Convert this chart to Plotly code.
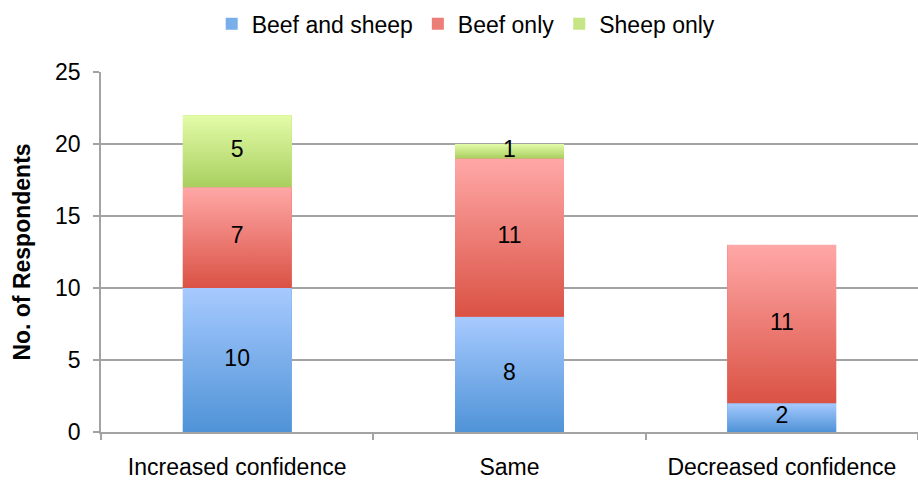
import plotly.graph_objects as go

# Survey responses: change in confidence, split by enterprise type
categories = ["Increased confidence", "Same", "Decreased confidence"]
beef_and_sheep = [10, 8, 2]
beef_only = [7, 11, 11]
sheep_only = [5, 1, 0]

series = [
    ("Beef and sheep", beef_and_sheep, "#4f93d7", "#a7caff", "#78aeea"),
    ("Beef only", beef_only, "#da5244", "#ffa8a7", "#ec7d77"),
    ("Sheep only", sheep_only, "#a9cf5f", "#e3fca9", "#c6e585"),
]

FONT = "Liberation Sans, Arial, sans-serif"
FS = 23
half_w = 0.2
xs = list(range(len(categories)))

fig = go.Figure()

# Legend entries (stacked bars underneath the gradient segments)
for name, vals, dark, light, mid in series:
    fig.add_trace(go.Bar(
        x=xs, y=vals, name=name, width=2 * half_w,
        marker=dict(color=mid, line=dict(width=0)),
        hoverinfo="skip",
    ))

# Gradient-filled segments stacked from the same values
base = [0] * len(categories)
label_x, label_y, label_t = [], [], []
for name, vals, dark, light, mid in series:
    for i, v in enumerate(vals):
        if v <= 0:
            continue
        y0, y1 = base[i], base[i] + v
        fig.add_trace(go.Scatter(
            x=[i - half_w, i + half_w, i + half_w, i - half_w, i - half_w],
            y=[y0, y0, y1, y1, y0],
            mode="lines", fill="toself",
            line=dict(width=0, color=mid),
            fillgradient=dict(type="vertical",
                              colorscale=[[0, dark], [1, light]]),
            showlegend=False, hoverinfo="skip",
        ))
        label_x.append(i)
        label_y.append((y0 + y1) / 2)
        label_t.append(str(v))
        base[i] = y1

fig.add_trace(go.Scatter(
    x=label_x, y=label_y, text=label_t, mode="text",
    textfont=dict(family=FONT, size=FS, color="black"),
    showlegend=False, hoverinfo="skip",
))

grid = "#a3a3a3"
fig.update_layout(
    barmode="stack",
    width=918, height=480,
    margin=dict(l=101, r=0, t=72, b=48),
    plot_bgcolor="white", paper_bgcolor="white",
    font=dict(family=FONT, size=FS, color="black"),
    legend=dict(orientation="h", x=0.447, xanchor="center", y=0.995,
                yanchor="top", yref="container", traceorder="normal",
                font=dict(size=FS), itemwidth=30,
                tracegroupgap=0),
    xaxis=dict(
        range=[-0.5, 2.5], tickvals=xs, ticktext=categories,
        ticks="", showgrid=False, zeroline=False,
        showline=True, linecolor=grid, linewidth=1.5,
        tickfont=dict(size=FS), ticklabelstandoff=14,
        minor=dict(tickvals=[-0.5, 0.5, 1.5, 2.5], ticks="outside",
                   ticklen=6, tickcolor=grid, tickwidth=1.5,
                   showgrid=False),
    ),
    yaxis=dict(
        range=[0, 25], dtick=5, showgrid=True, gridcolor=grid,
        gridwidth=1.5, zeroline=False,
        showline=True, linecolor=grid, linewidth=1.5,
        ticks="outside", ticklen=6, tickcolor=grid, tickwidth=1.5,
        tickfont=dict(size=FS), ticklabelstandoff=8,
        title=dict(text="<b>No. of Respondents</b>",
                   font=dict(size=FS), standoff=18),
    ),
)

fig.write_html("out.html")
